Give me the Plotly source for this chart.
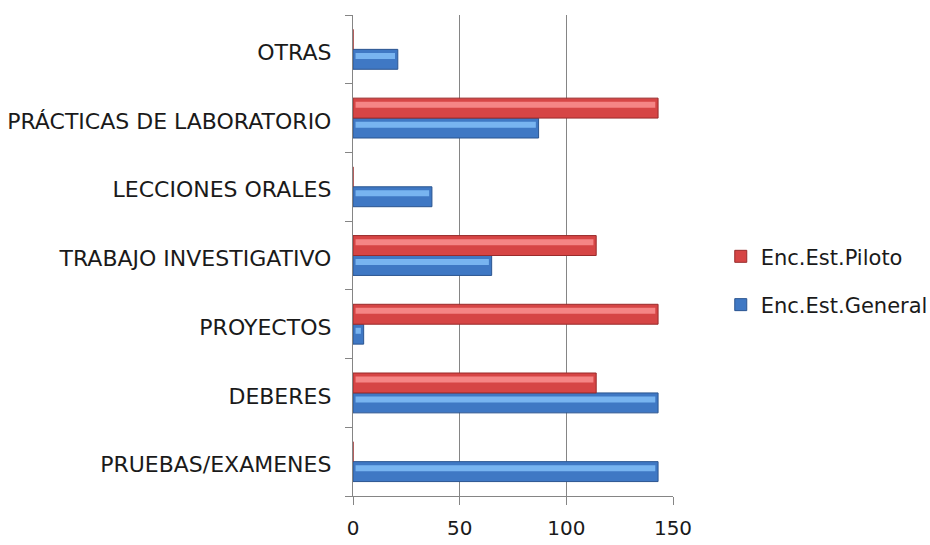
import plotly.graph_objects as go

categories = [
    "PRUEBAS/EXAMENES",
    "DEBERES",
    "PROYECTOS",
    "TRABAJO INVESTIGATIVO",
    "LECCIONES ORALES",
    "PRÁCTICAS DE LABORATORIO",
    "OTRAS",
]
general = [143, 143, 5, 65, 37, 87, 21]
piloto = [0, 114, 143, 114, 0, 143, 0]

x_ticks = [0, 50, 100, 150]

font_family = "DejaVu Sans"
text_color = "#1a1a1a"

fig = go.Figure()

# bar thickness and placement inside each category band (category units)
bar_w = 0.29
series = [
    ("Enc.Est.General", general, -bar_w, "#3F78C4", "#2B5590", "#78B4F0", 2),
    ("Enc.Est.Piloto", piloto, 0.0, "#D64545", "#992B2B", "#F58585", 1),
]

for name, vals, off, base, edge, light, rank in series:
    # body of the bar
    fig.add_trace(go.Bar(
        y=categories, x=vals, orientation="h", name=name,
        offset=off, width=bar_w,
        marker=dict(color=base, line=dict(color=edge, width=1)),
        legendrank=rank, legendgroup=name,
        hoverinfo="x+name",
    ))
    # lighter upper band for a bevelled look
    fig.add_trace(go.Bar(
        y=categories, x=[max(v - 2.5, 0) for v in vals], orientation="h",
        offset=off + bar_w * 0.52, width=bar_w * 0.3,
        base=[1.2 if v > 0 else 0 for v in vals],
        marker=dict(color=light, line=dict(width=0)),
        showlegend=False, hoverinfo="skip", legendgroup=name,
    ))

fig.update_layout(
    width=930, height=545,
    margin=dict(l=353, r=257, t=15, b=49, autoexpand=False),
    plot_bgcolor="white", paper_bgcolor="white",
    barmode="overlay",
    font=dict(family=font_family, size=21, color=text_color),
    legend=dict(
        xref="container", yref="container",
        x=0.775, y=0.485, xanchor="left", yanchor="middle",
        traceorder="grouped", font=dict(size=21, color=text_color),
        tracegroupgap=18, itemwidth=30,
    ),
    xaxis=dict(
        range=[0, 150], tickvals=x_ticks, ticktext=[str(t) for t in x_ticks],
        showgrid=True, gridcolor="#858585", gridwidth=1.3,
        showline=True, linecolor="#858585", linewidth=1.3,
        ticks="outside", ticklen=8, tickcolor="#858585",
        zeroline=False, tickfont=dict(size=20), automargin=False,
        ticklabelstandoff=6,
    ),
    yaxis=dict(
        categoryorder="array", categoryarray=categories,
        range=[-0.5, 6.5],
        showline=True, linecolor="#858585", linewidth=1.3,
        ticks="outside", ticklen=7, tickcolor="#858585",
        tickson="boundaries", showgrid=False, ticklabelstandoff=16,
        ticklabelshift=3,
        tickfont=dict(size=22), automargin=False,
    ),
)

fig.write_html("out.html")
